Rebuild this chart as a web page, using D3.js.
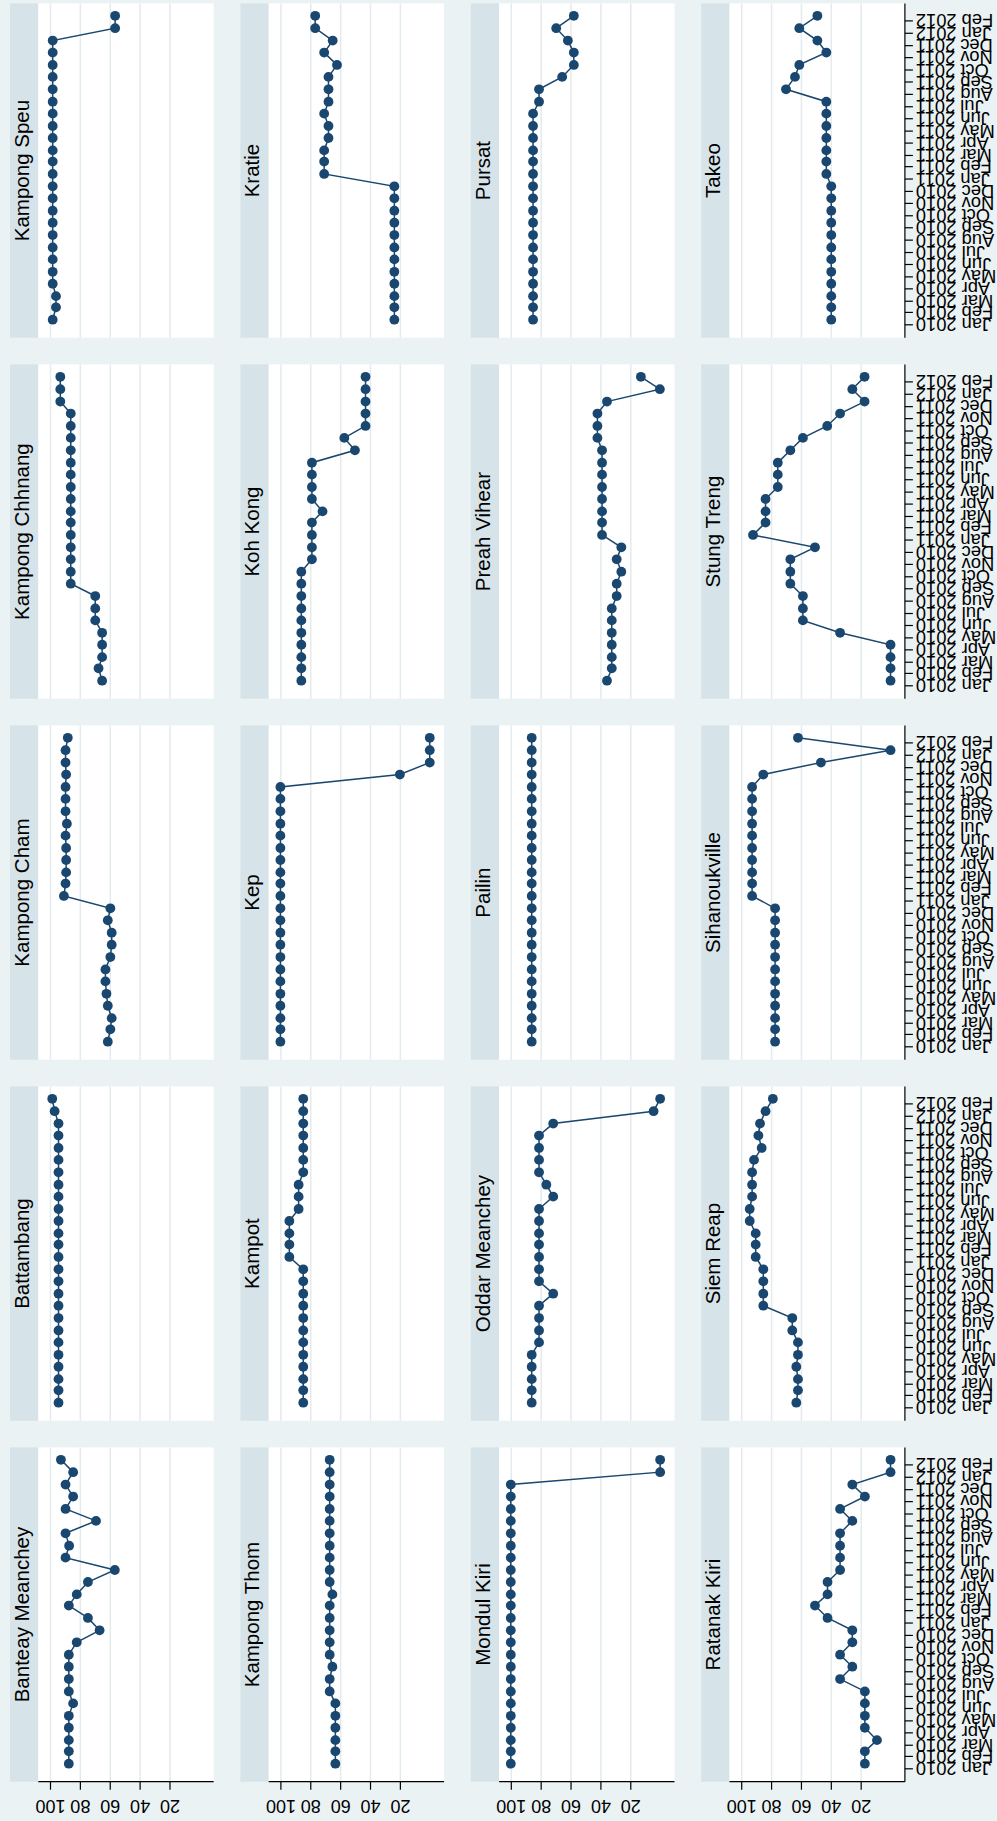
<!DOCTYPE html>
<html>
<head>
<meta charset="utf-8">
<script src="https://cdn.jsdelivr.net/npm/d3@7"></script>
<style>
  body { margin: 0; background: #eaf2f3; }
  svg { display: block; }
  text { font-family: "Liberation Sans", Arial, Helvetica, sans-serif; fill: #000; }
</style>
</head>
<body>
<div id="chart"></div>
<script>
// ---------- data ----------
const monthLabels = ["Jan 2010","Feb 2010","Mar 2010","Apr 2010","May 2010","Jun 2010","Jul 2010","Aug 2010","Sep 2010","Oct 2010","Nov 2010","Dec 2010",
  "Jan 2011","Feb 2011","Mar 2011","Apr 2011","May 2011","Jun 2011","Jul 2011","Aug 2011","Sep 2011","Oct 2011","Nov 2011","Dec 2011",
  "Jan 2012","Feb 2012"];
const valueTicks = [20, 40, 60, 80, 100];

const provinces = ["Banteay Meanchey","Battambang","Kampong Cham","Kampong Chhnang","Kampong Speu",
  "Kampong Thom","Kampot","Kep","Koh Kong","Kratie",
  "Mondul Kiri","Oddar Meanchey","Pailin","Preah Vihear","Pursat",
  "Ratanak Kiri","Siem Reap","Sihanoukville","Stung Treng","Takeo"];

const banteayMeanchey = [87.4,87.4,87.4,87.4,87.4,84.5,87.4,87.4,87.4,87.4,82.1,66.8,74.6,87.4,82.1,74.6,56.6,89.6,87.2,89.6,69.2,89.6,84.5,89.6,84.5,92.7];
const battambang = [94.3,94.3,94.3,94.3,94.3,94.3,94.3,94.3,94.3,94.3,94.3,94.3,94.3,94.3,94.3,94.3,94.3,94.3,94.3,94.3,94.3,94.3,94.3,94.3,96.9,98.5];
const kampongCham = [61.3,59.6,58.7,61.3,62.2,62.9,62.9,59.6,58.7,58.7,61.3,59.6,90.7,89.6,89.2,89.2,89.2,89.6,88.7,89.6,89.6,89.6,89.2,89.6,89.6,88.1];
const kampongChhnang = [65.1,67.5,65.1,65.1,65.1,69.7,69.7,69.7,86.1,86.1,86.1,86.1,86.1,86.1,86.1,86.1,86.1,86.1,86.1,86.1,86.1,86.1,86.1,93.1,93.1,93.1];
const kampongSpeu = [98.2,96,96,98.2,98.2,98.2,98.2,98.2,98.2,98.2,98.2,98.2,98.2,98.2,98.2,98.2,98.2,98.2,98.2,98.2,98.2,98.2,98.2,98.2,56.4,56.4];
const kampongThom = [63.2,63.2,63.2,63.2,63.2,63.2,67,67,65.2,67,67,67,67,67,65.2,67,67,67,67,67,67,67,67,67,67,67];
const kampot = [84.7,84.7,84.7,84.7,84.7,84.7,84.7,84.7,84.7,84.7,84.7,84.7,94,94,94,94,87.8,87.8,87.8,84.7,84.7,84.7,84.7,84.7,84.7,84.7];
const kep = [100,100,100,100,100,100,100,100,100,100,100,100,100,100,100,100,100,100,100,100,100,100,20,0,0,0];
const kohKong = [86,86,86,86,86,86,86,86,86,86,78.9,78.9,78.9,78.9,71.8,78.9,78.9,78.9,78.9,50.1,57.2,43,43,43,43,43];
const kratie = [23.7,23.7,23.7,23.7,23.7,23.7,23.7,23.7,23.7,23.7,23.7,23.7,70.7,70.7,70.7,67.8,67.8,70.7,67.8,67.8,67.8,62.1,70.7,65,76.7,76.7];
const mondulKiri = [100,100,100,100,100,100,100,100,100,100,100,100,100,100,100,100,100,100,100,100,100,100,100,100,0,0];
const oddarMeanchey = [86,86,86,86,86,81.1,81.1,81.1,81.1,71.6,81.1,81.1,81.1,81.1,81.1,81.1,81.1,71.6,76.2,81.1,81.1,81.1,81.1,71.6,4.4,0];
const pailin = [86,86,86,86,86,86,86,86,86,86,86,86,86,86,86,86,86,86,86,86,86,86,86,86,86,86];
const preahVihear = [35.6,32.4,32.4,32.4,32.4,32.4,32.4,29.1,29.1,26,29.1,26,38.9,38.9,38.9,38.9,38.9,38.9,38.9,38.9,42,42,42,35.6,0.2,12.9];
const pursat = [85.1,85.1,85.1,85.1,85.1,85.1,85.1,85.1,85.1,85.1,85.1,85.1,85.1,85.1,85.1,85.1,85.1,85.1,81.1,81.1,65.6,57.8,57.8,61.8,69.6,57.8];
const ratanakKiri = [17.2,17.2,9.1,17.2,17.2,17.2,17.2,33.8,25.6,33.8,25.6,25.6,42.2,50.6,42.2,42.2,33.8,33.8,33.8,33.8,25.6,33.8,17.2,25.6,0,0];
const siemReap = [63.1,62,62,63.1,62,62,65.8,65.8,85.2,85.2,85.2,85.2,90.3,90.3,90.3,94.3,94.3,92.7,92.7,92.7,91.4,86.3,88.5,87.4,83.7,78.8];
const sihanoukville = [77.3,77.3,77.3,77.3,77.3,77.3,77.3,77.3,77.3,77.3,77.3,77.3,92.7,92.7,92.7,92.7,92.7,92.7,92.7,92.7,92.7,92.7,85.2,46.6,0,62];
const stungTreng = [0,0,0,0,33.8,58.7,58.7,58.7,67.1,67.1,67.1,50.6,92.1,83.7,83.7,83.7,75.5,75.5,75.5,67.1,58.7,42.4,33.8,17.4,25.6,17.4];
const takeo = [39.7,39.7,39.7,39.7,39.7,39.7,39.7,39.7,39.7,39.7,39.7,39.7,43,43,43,43,43,43,43,70,64,61.1,43,49,61.1,49];

const series = [banteayMeanchey, battambang, kampongCham, kampongChhnang, kampongSpeu,
  kampongThom, kampot, kep, kohKong, kratie,
  mondulKiri, oddarMeanchey, pailin, preahVihear, pursat,
  ratanakKiri, siemReap, sihanoukville, stungTreng, takeo];

// ---------- layout (drawn in the original landscape frame, then rotated) ----------
const W = 1821, H = 997;
const nCols = 5, nRows = 4;
const colX0 = 39.3, colPitch = 361, plotW = 334.3;
const rowY0 = 10, rowPitch = 230.4, stripH = 28.3, plotH = 175.4;
const navy = "#1a476f";

const parse = d3.timeParse("%b %Y");
const fmt = d3.timeFormat("%b %Y");
const tickDates = monthLabels.map(parse);
const pointDates = tickDates.map(d => d3.timeDay.offset(d, 14));
const timeDomain = [tickDates[0], pointDates[pointDates.length - 1]];

const svg = d3.select("#chart").append("svg")
  .attr("width", H).attr("height", W);
svg.append("rect").attr("width", H).attr("height", W).attr("fill", "#eaf2f3");

const g = svg.append("g").attr("transform", `translate(0,${W}) rotate(-90)`);

provinces.forEach((name, k) => {
  const i = Math.floor(k / nCols), j = k % nCols;
  const x0 = colX0 + colPitch * j;
  const sy = rowY0 + rowPitch * i;
  const py = sy + stripH;

  const x = d3.scaleTime().domain(timeDomain).range([x0 + 12.4, x0 + plotW - 12.4]);
  const y = d3.scaleLinear().domain([0, 100]).range([py + 161.05, py + 11.7]);

  const p = g.append("g");
  // strip
  p.append("rect").attr("x", x0).attr("y", sy).attr("width", plotW).attr("height", stripH)
    .attr("fill", "#d6e3e8");
  p.append("text").attr("x", x0 + plotW / 2).attr("y", sy + 19)
    .attr("text-anchor", "middle").style("font-size", "20.5px").text(name);
  // plot region
  p.append("rect").attr("x", x0).attr("y", py).attr("width", plotW).attr("height", plotH)
    .attr("fill", "#ffffff");

  // gridlines
  const grid = p.append("g").attr("transform", `translate(${x0},0)`)
    .call(d3.axisLeft(y).tickValues(valueTicks).tickSize(-plotW).tickFormat(""));
  grid.select(".domain").remove();
  grid.selectAll("line").attr("stroke", "#e3ebee").attr("stroke-width", 1.5);

  // data
  const vals = series[k];
  const pts = vals.map((v, t) => [pointDates[t], v]);
  p.append("path").datum(pts)
    .attr("fill", "none").attr("stroke", navy).attr("stroke-width", 1.5)
    .attr("d", d3.line().x(d => x(d[0])).y(d => y(d[1])));
  p.selectAll("circle").data(pts).join("circle")
    .attr("cx", d => x(d[0])).attr("cy", d => y(d[1])).attr("r", 4.9)
    .attr("fill", navy);

  // y axis on the first column
  if (j === 0) {
    p.append("line").attr("x1", x0).attr("x2", x0).attr("y1", py).attr("y2", py + plotH)
      .attr("stroke", "#000").attr("stroke-width", 1.2);
    const ya = p.append("g").attr("transform", `translate(${x0},0)`)
      .call(d3.axisLeft(y).tickValues(valueTicks).tickSize(8).tickSizeOuter(0));
    ya.select(".domain").remove();
    ya.selectAll("line").attr("stroke", "#000").attr("stroke-width", 1.2);
    ya.selectAll("text")
      .attr("x", null).attr("dy", null)
      .attr("transform", "translate(-18.3,0) rotate(-90)")
      .attr("text-anchor", "middle")
      .style("font-size", "18px").style("font-family", "'Liberation Sans', Arial, sans-serif");
  }
  // x axis on the last row
  if (i === nRows - 1) {
    const ay = py + plotH;
    p.append("line").attr("x1", x0).attr("x2", x0 + plotW).attr("y1", ay).attr("y2", ay)
      .attr("stroke", "#000").attr("stroke-width", 1.2);
    const xa = p.append("g").attr("transform", `translate(0,${ay})`)
      .call(d3.axisBottom(x).tickValues(tickDates).tickSize(8).tickSizeOuter(0).tickFormat(fmt));
    xa.select(".domain").remove();
    xa.selectAll("line").attr("stroke", "#000").attr("stroke-width", 1.2);
    xa.selectAll("text")
      .attr("y", null).attr("dy", "0.35em")
      .attr("transform", "translate(0,11) rotate(-90)")
      .attr("text-anchor", "end")
      .style("font-size", "18.3px").style("font-family", "'Liberation Sans', Arial, sans-serif");
  }
});
</script>
</body>
</html>
